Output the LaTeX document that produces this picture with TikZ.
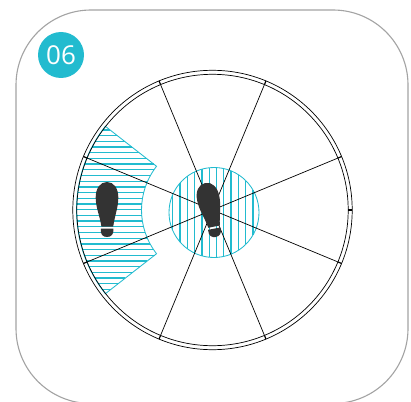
\documentclass[tikz,border=0pt]{standalone}
\usepackage{fontspec}
\newfontfamily\badgefont{Open Sans}
\definecolor{badgeCyan}{HTML}{22BBCF}
\definecolor{hatchCyan}{HTML}{22BBCF}
\definecolor{frameGray}{HTML}{A3A3A3}
\definecolor{footDark}{HTML}{333333}
\newcommand{\footprint}[1]{%
  \begin{scope}[#1]
    \fill[footDark] (0,-27.5) .. controls (7,-27.5) and (11.3,-21) .. (11.3,-12)
      .. controls (11.3,-2) and (8,5) .. (6.2,17) -- (-5.6,17)
      .. controls (-7.5,5) and (-11.3,-2) .. (-11.3,-12)
      .. controls (-11.3,-21) and (-7,-27.5) .. (0,-27.5) -- cycle;
    \fill[footDark] (-6.2,19) -- (6.4,19) .. controls (7,25) and (4,27.5) .. (0,27.5)
      .. controls (-4,27.5) and (-7,25) .. (-6.2,19) -- cycle;
  \end{scope}}
\begin{document}
\begin{tikzpicture}[x=1pt, y=-1pt, hatch/.style={hatchCyan, line width=1.3pt}]
  \useasboundingbox (0,0) rectangle (411,401);

  % frame, runs off the bottom edge
  \begin{scope}
    \clip (0,0) rectangle (411,401);
    \draw[frameGray, line width=1.1pt, rounded corners=75pt] (16,10) rectangle (408,403.5);
  \end{scope}

  % badge
  \node[circle, fill=badgeCyan, minimum size=46pt, inner sep=0pt, text=white,
    font=\badgefont\fontsize{26}{26}\selectfont] (badge) at (61,55) {06};

  % left sector hatching
  \foreach \y in {129.9,135.6,...,290}{
    \pgfmathsetmacro{\dy}{abs(\y-210)}
    \pgfmathsetmacro{\xa}{212.5-136*sqrt(1-(\dy/136)*(\dy/136))}
    \pgfmathsetmacro{\xb}{\dy<43.7 ? 212.5-sqrt(max(71*71-\dy*\dy,0)) : 212.5-\dy/tan(38)}
    \draw[hatch] (\xa,\y) -- (\xb,\y);
  }
  \draw[hatchCyan, line width=0.85pt] (212.5,210) ++(142:71) -- ++(142:65)
    arc[start angle=142, end angle=218, radius=136]
    -- ++(38:65) arc[start angle=218, end angle=142, radius=71] -- cycle;

  % centre hatching
  \foreach \x in {172.7,180,...,258}{
    \pgfmathsetmacro{\dy}{sqrt(45*45-(\x-214)*(\x-214))}
    \draw[hatch] (\x,212.5-\dy) -- (\x,212.5+\dy);
  }
  \draw[hatchCyan, line width=0.85pt] (214,212.5) circle[radius=45];

  % dial
  \draw[line width=0.7pt] (212.5,210) circle[radius=139.7];
  \draw[line width=0.7pt] (212.5,210) circle[radius=135.7];
  \foreach \a in {22.5,67.5,112.5,157.5,202.5,247.5,292.5,337.5}{
    \draw[line width=0.7pt] (212.5,210) -- ++(\a:136);
    \draw[line width=1.2pt] (212.5,210) ++(\a:135.7) -- ++(\a:4);
  }
  \draw[line width=1.2pt] (348.2,210) -- (352.2,210);

  % feet
  \footprint{shift={(107,209.5)}}
  \footprint{shift={(210.5,210)}, rotate=11}

\end{tikzpicture}
\end{document}
